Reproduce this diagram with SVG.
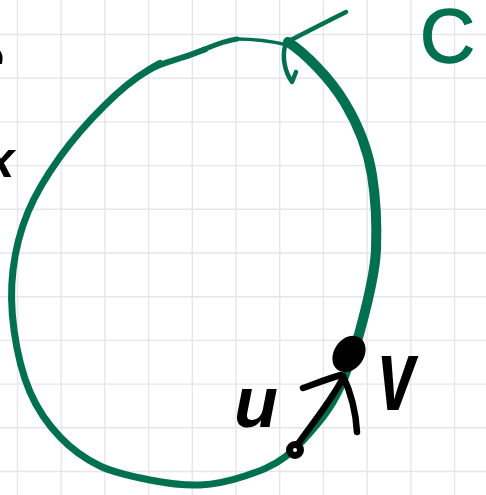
<svg xmlns="http://www.w3.org/2000/svg" width="486" height="495" viewBox="0 0 486 495">
<style>
.grid line{stroke:#e6e6e6;stroke-width:1.4}
.g{fill:none;stroke:#00704f;stroke-linecap:round;stroke-linejoin:round}
.k{fill:none;stroke:#000;stroke-linecap:round;stroke-linejoin:round}
.hand{font-family:"Liberation Sans",Arial,sans-serif;font-weight:bold;font-style:italic}
</style>
<rect width="486" height="495" fill="#fff"/>
<g class="grid" id="grid">
<line x1="17.5" y1="0" x2="17.5" y2="495"/><line x1="61.2" y1="0" x2="61.2" y2="495"/><line x1="104.9" y1="0" x2="104.9" y2="495"/><line x1="148.6" y1="0" x2="148.6" y2="495"/><line x1="192.3" y1="0" x2="192.3" y2="495"/><line x1="236" y1="0" x2="236" y2="495"/><line x1="279.7" y1="0" x2="279.7" y2="495"/><line x1="323.4" y1="0" x2="323.4" y2="495"/><line x1="367.1" y1="0" x2="367.1" y2="495"/><line x1="410.8" y1="0" x2="410.8" y2="495"/><line x1="454.5" y1="0" x2="454.5" y2="495"/>
<line x1="0" y1="34.5" x2="486" y2="34.5"/><line x1="0" y1="78.2" x2="486" y2="78.2"/><line x1="0" y1="121.9" x2="486" y2="121.9"/><line x1="0" y1="165.6" x2="486" y2="165.6"/><line x1="0" y1="209.3" x2="486" y2="209.3"/><line x1="0" y1="253" x2="486" y2="253"/><line x1="0" y1="296.7" x2="486" y2="296.7"/><line x1="0" y1="340.4" x2="486" y2="340.4"/><line x1="0" y1="384.1" x2="486" y2="384.1"/><line x1="0" y1="427.8" x2="486" y2="427.8"/><line x1="0" y1="471.5" x2="486" y2="471.5"/>
</g>
<g id="edge-letters" class="hand" fill="#000">
<text x="4" y="77" font-size="55" text-anchor="end">e</text>
<text x="0" y="177" font-size="52" text-anchor="middle">x</text>
</g>
<g id="curve-C">
<path class="g" stroke-width="3.5" d="M288,45 Q262,39 237,39"/>
<path class="g" stroke-width="5" d="M237,39 C220.7,41 205,49.7 190,55"/>
<path class="g" stroke-width="6" d="M205,49.5 C198,52 194,53.5 190,55 C175,60.3 161.2,62.7 147,71"/>
<path class="g" stroke-width="7" d="M160,63.5 C155,66 151,68.5 147,71 C132.8,79.3 119.5,90.7 105,105 C90.5,119.3 72.8,139.2 60,157 C47.2,174.8 35.8,193.2 28,212 C20.2,230.8 15.3,250.3 13,270 C10.7,289.7 11.2,309.7 14,330 C16.8,350.3 22.3,374.2 30,392 C37.7,409.8 48.3,424.7 60,437 C71.7,449.3 85,458.8 100,466 C115,473.2 133.3,476.8 150,480 C166.7,483.2 184.2,485.7 200,485 C215.8,484.3 230.8,480.7 245,476 C259.2,471.3 272,466.8 285,457 C298,447.2 313.3,429.3 323,417 C332.7,404.7 337.5,395 343,383 C348.5,371 353.8,351.3 356,345"/>
<path class="g" stroke-width="10" d="M288,42 C305,53 330,78 345,103 S368,150 372,175 S377,225 376,250 S366,310 356,345"/>
<path class="g" stroke-width="4.5" d="M291,40 Q316,27 346,12"/>
<path class="g" stroke-width="4.5" d="M285,46 C282,58 285,72 292,82 L296,72"/>
</g>
<g id="label-C">
<text x="420" y="62" font-family="Liberation Sans,Arial,sans-serif" font-size="76" fill="#00704f" stroke="#00704f" stroke-width="1.5">C</text>
</g>
<g id="vector">
<ellipse cx="349" cy="354" rx="15" ry="19.5" transform="rotate(35 349 354)" fill="#000"/>
<path class="k" stroke-width="6.5" d="M343,378 C333,398 315,420 298,444"/>
<path class="k" stroke-width="6.5" d="M303,388 C317,383 330,378 341,375"/>
<path class="k" stroke-width="6.5" d="M343,376 C352,395 356,415 357,432"/>
<circle cx="295" cy="450" r="5.5" fill="#fff" stroke="#000" stroke-width="7"/>
</g>
<g id="labels" class="hand" fill="#000">
<text x="234" y="427" font-size="72">u</text>
<text transform="translate(378,410) scale(1.05,1.6)" font-size="64">v</text>
</g>
</svg>
